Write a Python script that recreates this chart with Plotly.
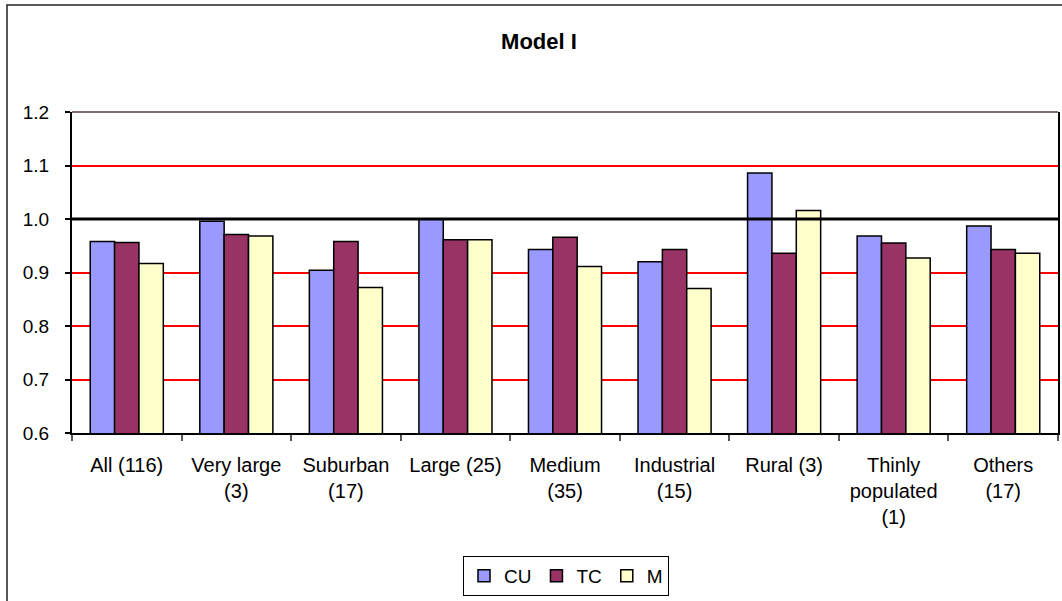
import plotly.graph_objects as go

# Category labels and series values
categories = ["All (116)", "Very large<br>(3)", "Suburban<br>(17)", "Large (25)",
              "Medium<br>(35)", "Industrial<br>(15)", "Rural (3)",
              "Thinly<br>populated<br>(1)", "Others<br>(17)"]
cu = [0.958, 0.996, 0.904, 1.000, 0.943, 0.920, 1.086, 0.968, 0.987]
tc = [0.956, 0.971, 0.958, 0.961, 0.966, 0.943, 0.936, 0.955, 0.943]
m = [0.917, 0.968, 0.872, 0.961, 0.911, 0.870, 1.016, 0.927, 0.936]
series_names = ["CU", "TC", "M"]
series_colors = ["#9999FF", "#993366", "#FFFFCC"]
reference_level = 1.0
y_ticks = [0.6, 0.7, 0.8, 0.9, 1.0, 1.1, 1.2]

FONT = "Liberation Sans, Arial, sans-serif"

fig = go.Figure()
for name, vals, col in zip(series_names, [cu, tc, m], series_colors):
    fig.add_trace(go.Bar(
        x=categories, y=vals, name=name,
        marker=dict(color=col, line=dict(color="black", width=1.5)),
    ))

# Plot-area geometry in pixels (used to place frame outside the axes)
W, H = 1062, 601
L, R, T, B = 72, 4, 112, 168
pw, ph = W - L - R, H - T - B


def px_x(px):
    return (px - L) / pw


def px_y(py):
    return (H - B - py) / ph


shapes = [
    # reference line
    dict(type="line", xref="paper", yref="y", x0=0, x1=1,
         y0=reference_level, y1=reference_level,
         line=dict(color="black", width=3)),
    # top edge of plot area
    dict(type="line", xref="paper", yref="paper", x0=0, x1=1, y0=1, y1=1,
         line=dict(color="#5a3a3a", width=1.5)),
    # outer chart frame
    dict(type="rect", xref="paper", yref="paper",
         x0=px_x(7), x1=px_x(1075), y0=px_y(620), y1=px_y(5),
         line=dict(color="#222", width=1.5), fillcolor="rgba(0,0,0,0)"),
]

fig.update_layout(
    width=W, height=H,
    margin=dict(l=L, r=R, t=T, b=B, autoexpand=False),
    paper_bgcolor="white", plot_bgcolor="white",
    font=dict(family=FONT, size=19, color="black"),
    title=dict(text="<b>Model I</b>", x=539 / W, xanchor="center",
               y=1 - 41 / H, yanchor="middle",
               font=dict(family=FONT, size=22, color="black")),
    barmode="group", bargap=0.333, bargroupgap=0,
    showlegend=True,
    legend=dict(orientation="h", x=px_x(566), xanchor="center",
                y=px_y(556), yanchor="top",
                bordercolor="black", borderwidth=1, bgcolor="white",
                font=dict(family=FONT, size=19, color="black"),
                itemwidth=30, tracegroupgap=0),
    shapes=shapes,
    xaxis=dict(
        type="category", tickson="boundaries", ticks="outside", ticklen=6,
        tickcolor="#555", tickwidth=1.5,
        showline=True, linecolor="black", linewidth=2,
        showgrid=False, ticklabelstandoff=13,
        tickfont=dict(family=FONT, size=20, color="black"),
    ),
    yaxis=dict(
        range=[0.6, 1.2], tickvals=y_ticks, tickformat=".1f",
        ticks="outside", ticklen=5, tickcolor="black", tickwidth=1.5,
        showline=True, linecolor="black", linewidth=2, mirror=True,
        showgrid=True, gridcolor="red", gridwidth=1.5,
        zeroline=False, ticklabelstandoff=12,
        tickfont=dict(family=FONT, size=19, color="black"),
    ),
)

fig.write_html("out.html")
